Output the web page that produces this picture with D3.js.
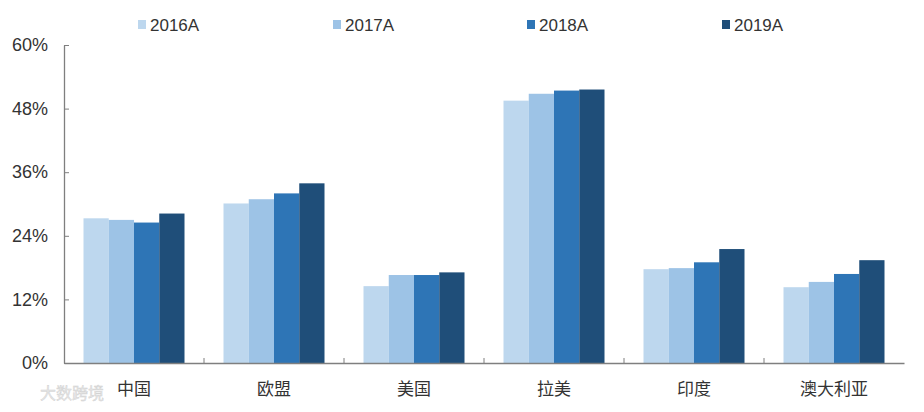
<!DOCTYPE html>
<html><head><meta charset="utf-8">
<script src="https://cdn.jsdelivr.net/npm/d3@7"></script>
<style>body{margin:0;background:#fff}svg{display:block}</style>
</head><body><svg id="c" width="924" height="412"></svg>
<script>
const categories = ["中国","欧盟","美国","拉美","印度","澳大利亚"];
const seriesNames = ["2016A","2017A","2018A","2019A"];
const v2016 = [27.3, 30.1, 14.5, 49.5, 17.7, 14.3];
const v2017 = [27.0, 30.9, 16.6, 50.8, 17.9, 15.3];
const v2018 = [26.5, 32.0, 16.6, 51.4, 19.0, 16.8];
const v2019 = [28.2, 33.9, 17.1, 51.6, 21.5, 19.4];
const yTicks = [0, 12, 24, 36, 48, 60];
const colors = ["#BDD7EE","#9DC3E6","#2E75B6","#1F4E79"];
const series = [v2016, v2017, v2018, v2019];

const svg = d3.select("#c");
const m = {left: 64};
const x = d3.scaleBand().domain(categories).range([m.left, 904]).paddingInner(0).paddingOuter(0);
const x1 = d3.scaleBand().domain(seriesNames).range([19.5, 120.5]).padding(0);
const y = d3.scaleLinear().domain([0, 60]).range([363, 45]);

const g = svg.append("g");
categories.forEach((c, i) => {
  series.forEach((s, j) => {
    g.append("rect")
      .attr("x", x(c) + x1(seriesNames[j]))
      .attr("y", y(s[i]))
      .attr("width", x1.bandwidth())
      .attr("height", y(0) - y(s[i]))
      .attr("fill", colors[j]);
  });
});

// Y axis
const axisColor = "#7f7f7f";
const ya = svg.append("g").attr("transform", `translate(${m.left},0)`)
  .call(d3.axisLeft(y).tickValues(yTicks).tickFormat(d => d + "%").tickSizeInner(-5).tickSizeOuter(0).tickPadding(16));
ya.select(".domain").attr("stroke", axisColor).attr("stroke-width", 1.3);
ya.selectAll(".tick line").attr("stroke", axisColor);
ya.selectAll("text").attr("font-family", "Liberation Sans, Arial, sans-serif").attr("font-size", 18).attr("fill", "#333");

// X axis
const xa = svg.append("g").attr("transform", `translate(0,${y(0)})`)
  .call(d3.axisBottom(x).tickSize(0).tickPadding(20));
xa.select(".domain").attr("stroke", axisColor).attr("stroke-width", 1.3);
xa.selectAll("text").attr("font-family", "Noto Sans CJK SC, sans-serif").attr("font-size", 17).attr("fill", "#333");
// separator ticks between categories
categories.slice(1).forEach(c => {
  svg.append("line").attr("x1", x(c)).attr("x2", x(c))
    .attr("y1", y(0)).attr("y2", y(0) - 5).attr("stroke", axisColor);
});

// Legend
const legX = [138, 333, 527, 722];
seriesNames.forEach((n, j) => {
  const lg = svg.append("g").attr("transform", `translate(${legX[j]},25)`);
  lg.append("rect").attr("x", 0).attr("y", -5).attr("width", 8).attr("height", 9).attr("fill", colors[j]);
  lg.append("text").attr("x", 12).attr("y", 0).attr("dy", "0.35em")
    .attr("font-family", "Liberation Sans, Arial, sans-serif").attr("font-size", 17).attr("fill", "#333").text(n);
});

// watermark
svg.append("text").attr("x", 40).attr("y", 399)
  .attr("font-family", "Noto Sans CJK SC, sans-serif").attr("font-size", 16)
  .attr("fill", "#e6e6e6").attr("stroke", "#d0d0d0").attr("stroke-width", 0.4).text("大数跨境");
</script></body></html>
